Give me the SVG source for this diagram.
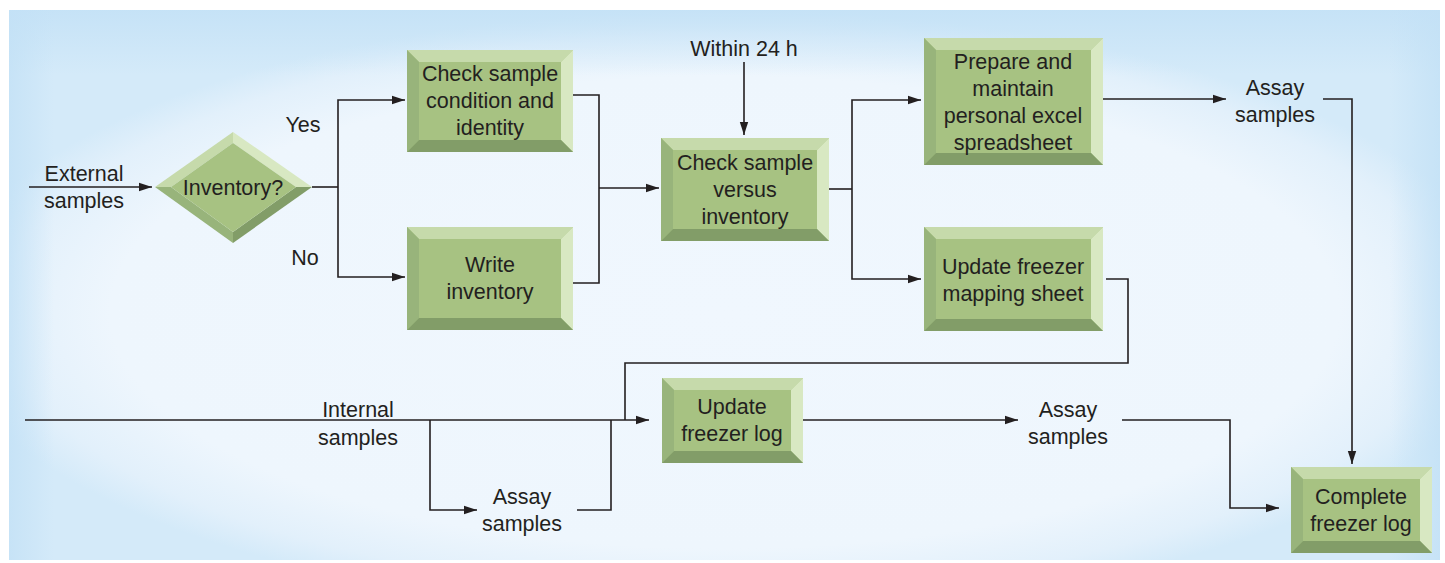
<svg xmlns="http://www.w3.org/2000/svg" width="1445" height="563" viewBox="0 0 1445 563">
  <defs>
    <radialGradient id="panelGlow" cx="0.5" cy="0.55" r="0.55">
      <stop offset="0" stop-color="#f0f7fe"/>
      <stop offset="0.78" stop-color="#eef6fd"/>
      <stop offset="0.92" stop-color="#e2f0fb"/>
      <stop offset="1" stop-color="#d4eaf9"/>
    </radialGradient>
    <linearGradient id="topGlow" x1="0" y1="0" x2="0" y2="1">
      <stop offset="0" stop-color="#c3e1f6" stop-opacity="0.85"/>
      <stop offset="1" stop-color="#c3e1f6" stop-opacity="0"/>
    </linearGradient>
    <linearGradient id="leftGlow" x1="0" y1="0" x2="1" y2="0">
      <stop offset="0" stop-color="#c3e1f6" stop-opacity="0.8"/>
      <stop offset="1" stop-color="#c3e1f6" stop-opacity="0"/>
    </linearGradient>
    <linearGradient id="rightGlow" x1="1" y1="0" x2="0" y2="0">
      <stop offset="0" stop-color="#c3e1f6" stop-opacity="0.8"/>
      <stop offset="1" stop-color="#c3e1f6" stop-opacity="0"/>
    </linearGradient>
    <marker id="arrow" markerUnits="userSpaceOnUse" markerWidth="14" markerHeight="10" refX="13" refY="5" orient="auto">
      <path d="M0,0.8 L13,5 L0,9.2 Z" fill="#231f20"/>
    </marker>
  </defs>
  <style>
    .face { fill: #a7c282; }
    .bt { fill: #c6daab; }
    .bl { fill: #98b47b; }
    .br { fill: #d8e8c2; }
    .bb { fill: #829d68; }
    text { font-family: "Liberation Sans", Arial, sans-serif; font-size: 21.5px; fill: #231f20; text-anchor: middle; }
    .conn path { fill: none; stroke: #231f20; stroke-width: 1.6; }
    .conn path.arr { marker-end: url(#arrow); }
  </style>

  <!-- background panel with soft blue edges -->
  <rect x="0" y="0" width="1445" height="563" fill="#ffffff"/>
  <rect x="9" y="10" width="1431" height="550" fill="url(#panelGlow)"/>
  <rect x="9" y="10" width="1431" height="65" fill="url(#topGlow)"/>
  <rect x="9" y="10" width="45" height="550" fill="url(#leftGlow)"/>
  <rect x="1390" y="10" width="50" height="550" fill="url(#rightGlow)"/>

  <!-- connectors -->
  <g id="connectors" class="conn">
    <path class="arr" d="M29,187 H152"/>
    <path d="M312,187 H338"/>
    <path class="arr" d="M338,187 V100 H405"/>
    <path class="arr" d="M338,187 V277 H405"/>
    <path d="M573,95 H599 V283 H573"/>
    <path class="arr" d="M599,188 H659"/>
    <path class="arr" d="M744,62 V135"/>
    <path d="M829,189 H852"/>
    <path class="arr" d="M852,189 V100 H921"/>
    <path class="arr" d="M852,189 V279 H921"/>
    <path class="arr" d="M1103,99 H1226"/>
    <path class="arr" d="M1323,99 H1352 V464"/>
    <path d="M1106,279 H1128 V363 H625 V420"/>
    <path class="arr" d="M25,420 H649"/>
    <path class="arr" d="M430,420 V510 H477"/>
    <path d="M577,510 H611 V420"/>
    <path class="arr" d="M803,420 H1018"/>
    <path class="arr" d="M1122,420 H1230 V508 H1279"/>
  </g>

  <!-- decision -->
  <g id="inventory-decision">
    <polygon class="bt" points="155,187 233,132 233,143 171,187"/>
    <polygon class="br" points="233,132 312,187 296,187 233,143"/>
    <polygon class="bb" points="312,187 233,243 233,232 296,187"/>
    <polygon class="bl" points="155,187 171,187 233,232 233,243"/>
    <polygon class="face" points="171,187 233,143 296,187 233,232"/>
    <text x="233" y="195">Inventory?</text>
  </g>

  <g id="check-condition">
    <rect class="face" x="407" y="50" width="166" height="102"/>
    <polygon class="bt" points="407,50 573,50 561,62 419,62"/>
    <polygon class="bl" points="407,50 419,62 419,140 407,152"/>
    <polygon class="br" points="573,50 573,152 561,140 561,62"/>
    <polygon class="bb" points="407,152 573,152 561,140 419,140"/>
    <text x="490" y="81">Check sample</text>
    <text x="490" y="108">condition and</text>
    <text x="490" y="135">identity</text>
  </g>

  <g id="write-inventory">
    <rect class="face" x="407" y="227" width="166" height="103"/>
    <polygon class="bt" points="407,227 573,227 561,239 419,239"/>
    <polygon class="bl" points="407,227 419,239 419,318 407,330"/>
    <polygon class="br" points="573,227 573,330 561,318 561,239"/>
    <polygon class="bb" points="407,330 573,330 561,318 419,318"/>
    <text x="490" y="272">Write</text>
    <text x="490" y="299">inventory</text>
  </g>

  <g id="check-versus-inventory">
    <rect class="face" x="661" y="138" width="168" height="103"/>
    <polygon class="bt" points="661,138 829,138 817,150 673,150"/>
    <polygon class="bl" points="661,138 673,150 673,229 661,241"/>
    <polygon class="br" points="829,138 829,241 817,229 817,150"/>
    <polygon class="bb" points="661,241 829,241 817,229 673,229"/>
    <text x="745" y="170">Check sample</text>
    <text x="745" y="197">versus</text>
    <text x="745" y="224">inventory</text>
  </g>

  <g id="excel-spreadsheet">
    <rect class="face" x="924" y="38" width="179" height="127"/>
    <polygon class="bt" points="924,38 1103,38 1091,50 936,50"/>
    <polygon class="bl" points="924,38 936,50 936,153 924,165"/>
    <polygon class="br" points="1103,38 1103,165 1091,153 1091,50"/>
    <polygon class="bb" points="924,165 1103,165 1091,153 936,153"/>
    <text x="1013" y="69">Prepare and</text>
    <text x="1013" y="96">maintain</text>
    <text x="1013" y="123">personal excel</text>
    <text x="1013" y="150">spreadsheet</text>
  </g>

  <g id="freezer-mapping">
    <rect class="face" x="924" y="227" width="179" height="104"/>
    <polygon class="bt" points="924,227 1103,227 1091,239 936,239"/>
    <polygon class="bl" points="924,227 936,239 936,319 924,331"/>
    <polygon class="br" points="1103,227 1103,331 1091,319 1091,239"/>
    <polygon class="bb" points="924,331 1103,331 1091,319 936,319"/>
    <text x="1013" y="274">Update freezer</text>
    <text x="1013" y="301">mapping sheet</text>
  </g>

  <g id="update-freezer-log">
    <rect class="face" x="662" y="378" width="141" height="85"/>
    <polygon class="bt" points="662,378 803,378 791,390 674,390"/>
    <polygon class="bl" points="662,378 674,390 674,451 662,463"/>
    <polygon class="br" points="803,378 803,463 791,451 791,390"/>
    <polygon class="bb" points="662,463 803,463 791,451 674,451"/>
    <text x="732" y="414">Update</text>
    <text x="732" y="441">freezer log</text>
  </g>

  <g id="complete-freezer-log">
    <rect class="face" x="1291" y="467" width="141" height="86"/>
    <polygon class="bt" points="1291,467 1432,467 1420,479 1303,479"/>
    <polygon class="bl" points="1291,467 1303,479 1303,541 1291,553"/>
    <polygon class="br" points="1432,467 1432,553 1420,541 1420,479"/>
    <polygon class="bb" points="1291,553 1432,553 1420,541 1303,541"/>
    <text x="1361" y="504">Complete</text>
    <text x="1361" y="531">freezer log</text>
  </g>

  <!-- free labels -->
  <g id="labels">
    <text x="84" y="181">External</text>
    <text x="84" y="208">samples</text>
    <text x="303" y="132">Yes</text>
    <text x="305" y="265">No</text>
    <text x="744" y="56">Within 24 h</text>
    <text x="1275" y="95">Assay</text>
    <text x="1275" y="122">samples</text>
    <text x="358" y="417">Internal</text>
    <text x="358" y="445">samples</text>
    <text x="1068" y="417">Assay</text>
    <text x="1068" y="444">samples</text>
    <text x="522" y="504">Assay</text>
    <text x="522" y="531">samples</text>
  </g>
</svg>
